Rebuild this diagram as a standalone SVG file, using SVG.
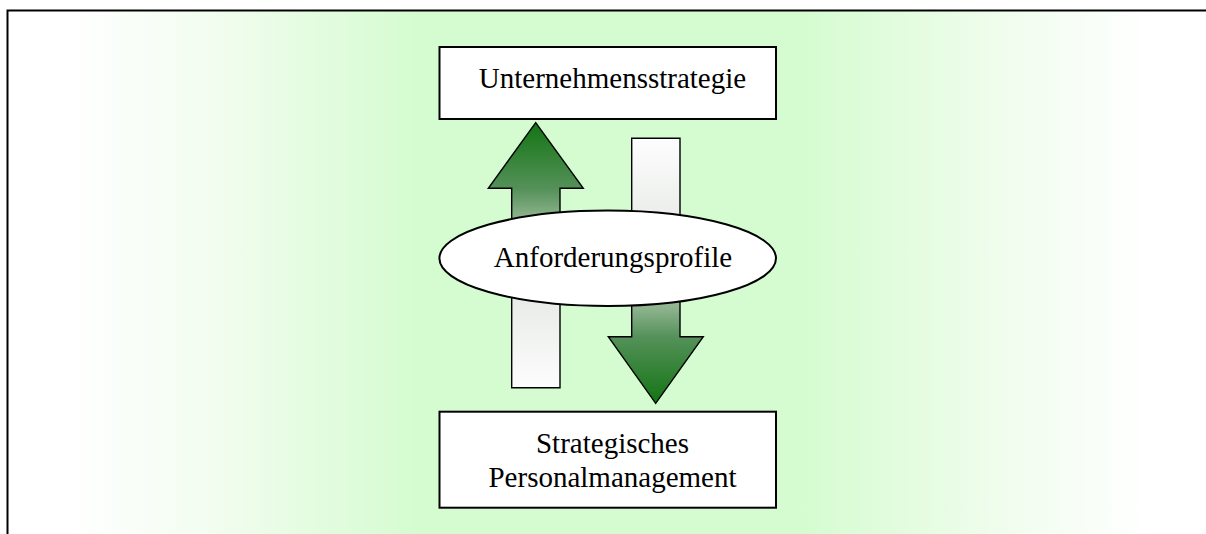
<svg xmlns="http://www.w3.org/2000/svg" width="1206" height="534" viewBox="0 0 1206 534">
  <style>
    .box { fill: #ffffff; stroke: #000000; stroke-width: 2; }
    .arrow { stroke: #000000; stroke-width: 1.4; stroke-linejoin: miter; }
    .label { font-family: "Liberation Serif", "Times New Roman", serif; font-size: 29px; fill: #000000; text-anchor: middle; }
  </style>
  <defs>
    <!-- horizontal background: white edges, pale green middle -->
    <linearGradient id="bg" gradientUnits="userSpaceOnUse" x1="0" y1="0" x2="1206" y2="0">
      <stop offset="0.054" stop-color="#ffffff"/>
      <stop offset="0.17" stop-color="#f3fdf1"/>
      <stop offset="0.27" stop-color="#e2fcde"/>
      <stop offset="0.35" stop-color="#d4fcd0"/>
      <stop offset="0.66" stop-color="#d4fcd0"/>
      <stop offset="0.75" stop-color="#e3fcdf"/>
      <stop offset="0.84" stop-color="#f1fdef"/>
      <stop offset="0.955" stop-color="#ffffff"/>
    </linearGradient>
    <!-- arrow fill: dark green at the head, fading to white at the tail -->
    <linearGradient id="upFill" gradientUnits="userSpaceOnUse" x1="0" y1="123" x2="0" y2="388">
      <stop offset="0" stop-color="#137513"/>
      <stop offset="0.25" stop-color="#55915a"/>
      <stop offset="0.36" stop-color="#8fb48f"/>
      <stop offset="0.62" stop-color="#e5e9e5"/>
      <stop offset="1" stop-color="#fdfdfd"/>
    </linearGradient>
    <linearGradient id="downFill" gradientUnits="userSpaceOnUse" x1="0" y1="403" x2="0" y2="138">
      <stop offset="0" stop-color="#137513"/>
      <stop offset="0.25" stop-color="#55915a"/>
      <stop offset="0.36" stop-color="#8fb48f"/>
      <stop offset="0.62" stop-color="#e5e9e5"/>
      <stop offset="1" stop-color="#fdfdfd"/>
    </linearGradient>
  </defs>

  <!-- background panel with frame on top and left -->
  <rect x="8" y="11" width="1198" height="523" fill="url(#bg)"/>
  <path d="M7.5,534 V10.5 H1206" fill="none" stroke="#000000" stroke-width="2"/>

  <g id="connectors">
    <!-- upward arrow -->
    <path class="arrow" fill="url(#upFill)" d="M535.7,122.7 L583.3,188.3 L560,188.3 L560,387.7 L511.7,387.7 L511.7,188.3 L488.3,188.3 Z"/>
    <!-- downward arrow -->
    <path class="arrow" fill="url(#downFill)" d="M631.7,138.3 L680,138.3 L680,336.7 L703.3,336.7 L655.7,403.3 L608.3,336.7 L631.7,336.7 Z"/>
  </g>

  <g id="node-unternehmensstrategie">
    <rect class="box" x="439.5" y="47" width="336.5" height="72"/>
    <text class="label" x="612.5" y="88">Unternehmensstrategie</text>
  </g>

  <g id="node-anforderungsprofile">
    <ellipse class="box" cx="607.7" cy="258.3" rx="168.3" ry="47.7"/>
    <text class="label" x="613" y="266.7">Anforderungsprofile</text>
  </g>

  <g id="node-personalmanagement">
    <rect class="box" x="439.5" y="411.7" width="336.5" height="96"/>
    <text class="label" x="612.5" y="453.3">Strategisches</text>
    <text class="label" x="612.5" y="486.7">Personalmanagement</text>
  </g>
</svg>
